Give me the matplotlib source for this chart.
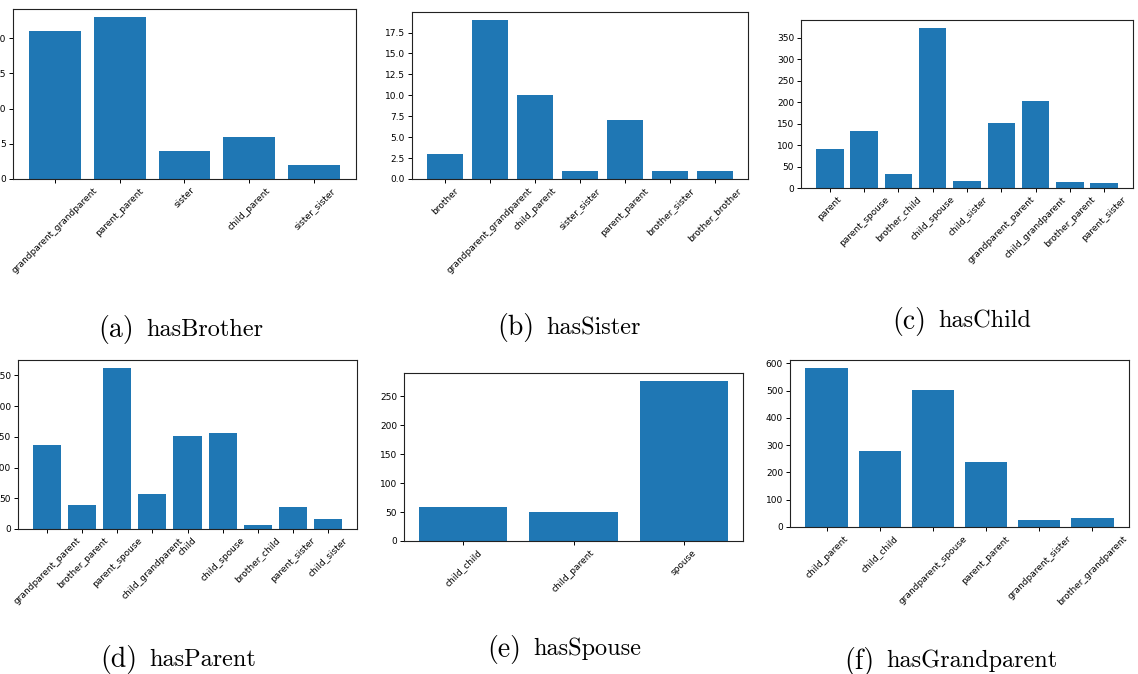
import matplotlib
matplotlib.use("Agg")
import matplotlib.pyplot as plt

W, H = 1138, 674

brother_labels = ["grandparent_grandparent", "parent_parent", "sister", "child_parent", "sister_sister"]
brother_counts = [21, 23, 4, 6, 2]

sister_labels = ["brother", "grandparent_grandparent", "child_parent", "sister_sister",
                 "parent_parent", "brother_sister", "brother_brother"]
sister_counts = [3, 19, 10, 1, 7, 1, 1]

child_labels = ["parent", "parent_spouse", "brother_child", "child_spouse", "child_sister",
                "grandparent_parent", "child_grandparent", "brother_parent", "parent_sister"]
child_counts = [90, 132, 33, 373, 17, 151, 202, 14, 12]

parent_labels = ["grandparent_parent", "brother_parent", "parent_spouse", "child_grandparent",
                 "child", "child_spouse", "brother_child", "parent_sister", "child_sister"]
parent_counts = [137, 39, 262, 57, 152, 157, 6, 36, 16]

spouse_labels = ["child_child", "child_parent", "spouse"]
spouse_counts = [59, 50, 276]

grandparent_labels = ["child_parent", "child_child", "grandparent_spouse", "parent_parent",
                      "grandparent_sister", "brother_grandparent"]
grandparent_counts = [583, 280, 502, 240, 27, 34]

cap_tags = ["(a)", "(b)", "(c)", "(d)", "(e)", "(f)"]
cap_names = ["hasBrother", "hasSister", "hasChild", "hasParent", "hasSpouse", "hasGrandparent"]

# panel boxes in pixels: left, top, right, bottom ; caption centre x, y
boxes = [
    (13, 9, 356, 179, 181, 330),
    (412, 12, 748, 179, 569, 328),
    (801, 20, 1133, 188, 962, 321),
    (18, 360, 357, 529, 178, 660),
    (404, 373, 743, 541, 564, 649),
    (790, 360, 1129, 527, 951, 661),
]

panels = [
    (brother_labels, brother_counts),
    (sister_labels, sister_counts),
    (child_labels, child_counts),
    (parent_labels, parent_counts),
    (spouse_labels, spouse_counts),
    (grandparent_labels, grandparent_counts),
]

fig = plt.figure(figsize=(W / 100, H / 100), dpi=100)
renderer = fig.canvas.get_renderer()

for (labels, counts), (l, t, r, b, cx, cy), tag, name in zip(panels, boxes, cap_tags, cap_names):
    ax = fig.add_axes([l / W, 1 - b / H, (r - l) / W, (b - t) / H])
    ax.bar(range(len(counts)), counts, width=0.8, color="#1f77b4")
    ax.set_xticks(range(len(counts)))
    ax.set_xticklabels(labels, rotation=45, fontsize=6.5)
    ax.tick_params(axis="y", labelsize=6.5)
    ax.tick_params(length=3, width=0.7, pad=2)
    for s in ax.spines.values():
        s.set_linewidth(0.8)
        s.set_color("#222222")

    # caption: tag a bit larger than the name, whole thing centred on cx
    t1 = fig.text(0, 1 - cy / H, tag, ha="left", va="center", fontsize=20, family="cmr10")
    t2 = fig.text(0, 1 - cy / H, name, ha="left", va="center", fontsize=17.5, family="cmr10")
    w1 = t1.get_window_extent(renderer).width
    w2 = t2.get_window_extent(renderer).width
    gap = 12
    x0 = cx - (w1 + gap + w2) / 2
    t1.set_x(x0 / W)
    t2.set_x((x0 + w1 + gap) / W)

fig.savefig("out.png", dpi=100)
